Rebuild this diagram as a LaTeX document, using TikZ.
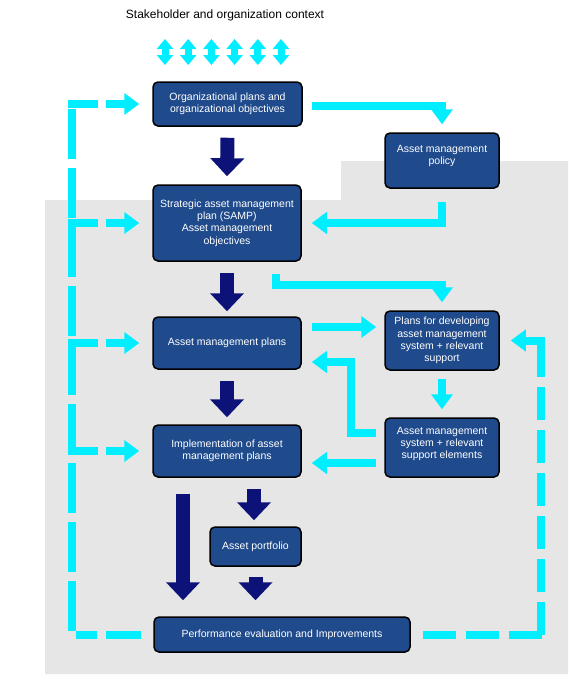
\documentclass[tikz,border=0pt]{standalone}
\usepackage{fontspec}
\setmainfont{Liberation Sans}
\usetikzlibrary{arrows.meta,calc}
\definecolor{boxblue}{RGB}{31,74,140}
\definecolor{navyblue}{RGB}{12,18,120}
\definecolor{cyanline}{RGB}{0,238,255}
\definecolor{bggray}{RGB}{230,230,230}
\begin{document}
\begin{tikzpicture}[x=1pt,y=-1pt,
  box/.style={draw=black, line width=1.5pt, fill=boxblue, rounded corners=5pt,
    text=white, font=\fontsize{10.5}{12.3}\selectfont, align=center, inner sep=2pt},
  boxtext/.style={text=white, font=\fontsize{10.5}{12.3}\selectfont, align=center, inner sep=0pt},
  navyarrow/.style={draw=navyblue, line width=14pt, -{Triangle[length=18pt,width=33pt]}},
  cyanarrow/.style={draw=cyanline, line width=8pt, -{Triangle[length=15pt,width=21pt]}},
  cyandash/.style={draw=cyanline, line width=8pt, dash pattern=on 33pt off 10pt},
  cyanbranch/.style={draw=cyanline, line width=8pt, dash pattern=on 30pt off 8pt, -{Triangle[length=15pt,width=21pt]}},
  twoway/.style={draw=cyanline, line width=7pt, {Triangle[length=10pt,width=16pt]}-{Triangle[length=10pt,width=16pt]}}
]
\useasboundingbox (0,0) rectangle (575,683);
\fill[white] (0,0) rectangle (575,683);
\fill[bggray] (45,200) -- (341,200) -- (341,161) -- (568,161) -- (568,674) -- (45,674) -- cycle;

% title and context arrows
\node[font=\fontsize{12}{14}\selectfont, inner sep=0pt] (title) at (225,15) {Stakeholder and organization context};
\foreach \i in {0,...,5} {
  \draw[twoway] (165+23.2*\i,39) -- (165+23.2*\i,65);
}

% boxes
\node[box, minimum width=149, minimum height=44] (org) at (227.5,104) {Organizational plans and\\organizational objectives};
\node[box, minimum width=114, minimum height=55] (policy) at (442,160.5) {};
\node[boxtext] (policytext) at ([yshift=4.5pt]policy.center) {Asset management\\policy};
\node[box, minimum width=148, minimum height=76] (samp) at (227,223) {Strategic asset management\\plan (SAMP)\\Asset management\\objectives};
\node[box, minimum width=148, minimum height=52] (amplans) at (227,343) {Asset management plans};
\node[box, minimum width=148, minimum height=52] (impl) at (227,451) {Implementation of asset\\management plans};
\node[box, minimum width=114, minimum height=59] (plansdev) at (442,340.5) {Plans for developing\\asset management\\system + relevant\\support};
\node[box, minimum width=114, minimum height=59] (amsys) at (442,447.5) {};
\node[boxtext] (amsystext) at ([yshift=3.5pt]amsys.center) {Asset management\\system + relevant\\support elements};
\node[box, minimum width=91, minimum height=39] (portfolio) at (255.5,546.5) {Asset portfolio};
\node[box, minimum width=256, minimum height=35] (perf) at (282,634.5) {Performance evaluation and Improvements};

% navy block arrows
\draw[navyarrow] ([yshift=-11pt]org.south) -- ([yshift=8pt]samp.north);
\draw[navyarrow] ([yshift=-11pt]samp.south) -- ([yshift=5pt]amplans.north);
\draw[navyarrow] ([yshift=-11pt]amplans.south) -- ([yshift=7pt]impl.north);
\draw[navyarrow] ($(impl.south)+(27,11)$) -- ($(portfolio.north)+(-1.5,-6)$);
\draw[navyarrow] ($(impl.south)+(-44,16)$) -- ($(perf.north)+(-99,-16)$);
\draw[navyarrow] ([yshift=-10pt]portfolio.south) -- ($(perf.north)+(-26.5,-16)$);

% solid cyan connectors
\draw[cyanarrow] ([xshift=9pt,yshift=-2pt]org.east) -| ([yshift=8pt]policy.north);
\draw[cyanarrow] ([yshift=-13pt]policy.south) |- ([xshift=10pt]samp.east);
\draw[cyanarrow] ($(samp.south)+(48.5,12)$) -- ++(0,11.5) -| ([yshift=8pt]plansdev.north);
\coordinate (dA) at ($(amplans.east)+(10,-16)$);
\draw[cyanarrow, shorten >=8pt] (dA) -- (dA -| plansdev.west);
\draw[cyanarrow] ([yshift=-8pt]plansdev.south) -- ([yshift=8pt]amsys.north);
\draw[cyanarrow] ([xshift=-8pt,yshift=14.5pt]amsys.west) -- ++(-25,0) |- ([xshift=10pt,yshift=-19pt]amplans.east);
\coordinate (gA) at ([xshift=-8pt,yshift=-15.5pt]amsys.west);
\draw[cyanarrow, shorten >=10pt] (gA) -- (gA -| impl.east);

% left feedback loop
\coordinate (ltop) at (72,104);
\coordinate (lbot) at (72,634.5);
\draw[cyandash, dash pattern=on 50pt off 9pt] ([yshift=4pt]lbot) -- ([yshift=-4pt]ltop);
\draw[cyandash, dash pattern=on 35pt off 9pt, shorten <=12pt] (perf.west) -- ([xshift=4pt]lbot);
\draw[cyanbranch, shorten >=13pt] ([xshift=-4pt]ltop) -- (ltop -| org.west);
\draw[cyanbranch, shorten >=13pt] ([xshift=-4pt]ltop |- samp.west) -- (samp.west);
\draw[cyanbranch, shorten >=13pt] ([xshift=-4pt]ltop |- amplans.west) -- (amplans.west);
\draw[cyanbranch, shorten >=13pt] ([xshift=-4pt]ltop |- impl.west) -- (impl.west);

% right feedback loop
\coordinate (rbot) at (541,634.5);
\coordinate (rtop) at (541,340.5);
\draw[cyandash, shorten <=12pt] (perf.east) -- ([xshift=4pt]rbot);
\draw[cyandash] (rbot) -- ([yshift=4pt]rtop);
\draw[cyanbranch, dash pattern=on 40pt off 0pt, shorten >=11pt] ([xshift=4pt]rtop) -- (plansdev.east);
\end{tikzpicture}
\end{document}
